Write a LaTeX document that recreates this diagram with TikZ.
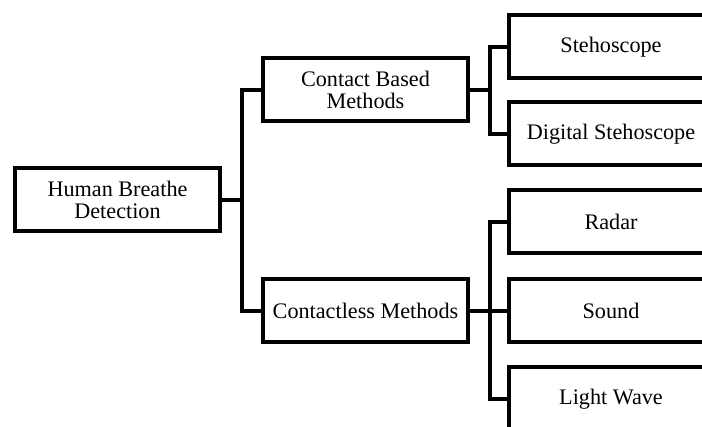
\documentclass[tikz,border=0pt]{standalone}
\usepackage{fontspec}
\setmainfont{Liberation Serif}
\usetikzlibrary{positioning}

\begin{document}
\begin{tikzpicture}[
    x=1pt, y=-1pt,
    every node/.style={text=black},
    box/.style={draw=black, line width=4pt, fill=white, align=center,
      minimum width=205pt, minimum height=63pt, inner sep=2pt,
      font=\fontsize{22.2}{21.5}\selectfont},
    link/.style={draw=black, line width=4pt, line join=miter},
  ]

  % Page frame
  \useasboundingbox (0,0) rectangle (702,427);
  \clip (0,0) rectangle (702,427);

  % === Column positions ===
  \def\colA{117.5}
  \def\colB{365.5}
  \def\colC{611}
  \def\gap{20}

  % Root
  \node[box] (breathe) at (\colA, 200) {Human Breathe\\Detection};

  % Method groups
  \node[box] (contact) at (\colB, 90) {Contact Based\\Methods};
  \node[box] (contactless) at (\colB, 311) {Contactless Methods};

  % Contact based devices
  \node[box] (steth) at (\colC, 47) {Stehoscope};
  \node[box] (digsteth) at (\colC, 134) {Digital Stehoscope};

  % Contactless techniques
  \node[box] (radar) at (\colC, 222) {Radar};
  \node[box] (sound) at (\colC, 311) {Sound};
  \node[box] (light) at (\colC, 399) {Light Wave};

  % Root to groups
  \draw[link] (breathe.east) -- ++(\gap,0) |- (contact.west);
  \draw[link] (breathe.east) -- ++(\gap,0) |- (contactless.west);

  % Contact group to devices
  \draw[link] (contact.east) -- ++(\gap,0) |- (steth.west);
  \draw[link] (contact.east) -- ++(\gap,0) |- (digsteth.west);

  % Contactless group to techniques
  \draw[link] (contactless.east) -- ++(\gap,0) |- (radar.west);
  \draw[link] (contactless.east) -- (sound.west);
  \draw[link] (contactless.east) -- ++(\gap,0) |- (light.west);

\end{tikzpicture}
\end{document}
